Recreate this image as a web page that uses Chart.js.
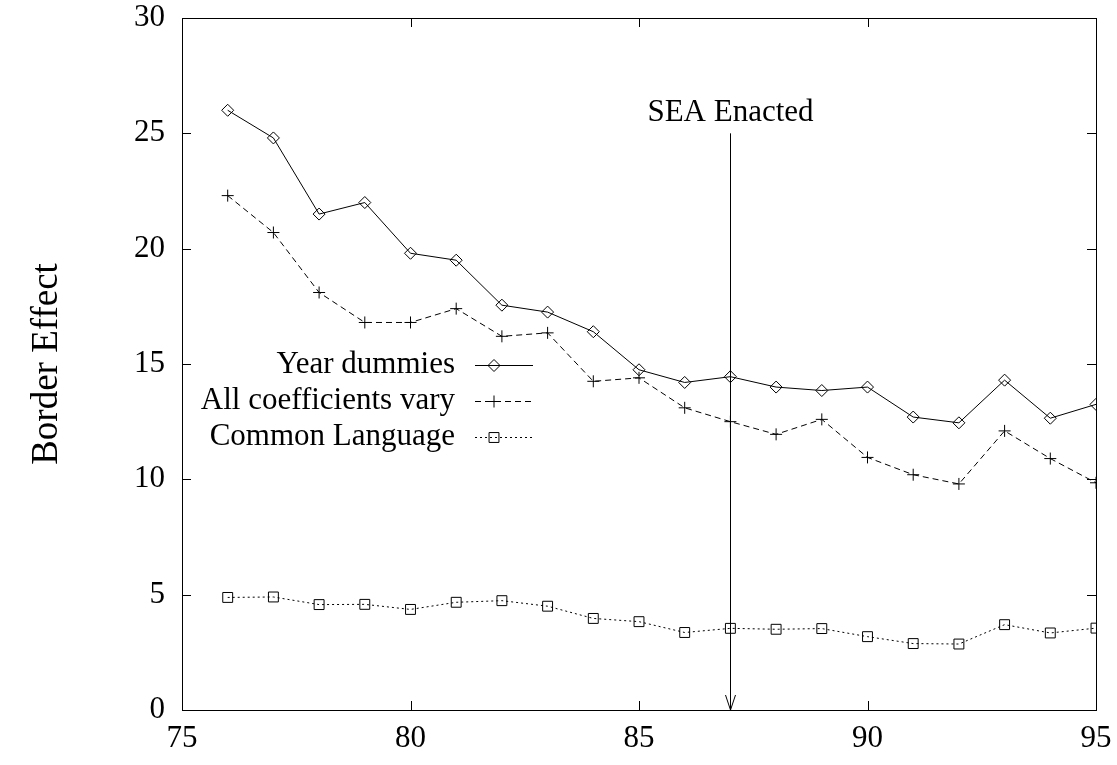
<!DOCTYPE html>
<html>
<head>
<meta charset="utf-8">
<script src="https://cdn.jsdelivr.net/npm/chart.js@4/dist/chart.umd.min.js"></script>
<style>
  body { margin: 0; background: #fff; }
  canvas { display: block; }
</style>
</head>
<body>
<canvas id="borderChart" width="1117" height="765"></canvas>
<script>
// data
const years = [76, 77, 78, 79, 80, 81, 82, 83, 84, 85, 86, 87, 88, 89, 90, 91, 92, 93, 94, 95];
const yearDummies = [26.0, 24.8, 21.5, 22.0, 19.8, 19.5, 17.55, 17.25, 16.4, 14.75, 14.2, 14.45, 14.0, 13.85, 14.0, 12.7, 12.45, 14.3, 12.65, 13.25];
const allCoefVary = [22.3, 20.7, 18.1, 16.8, 16.8, 17.4, 16.2, 16.35, 14.25, 14.4, 13.1, 12.5, 11.95, 12.6, 10.95, 10.2, 9.8, 12.1, 10.9, 9.85];
const commonLang = [4.88, 4.9, 4.57, 4.58, 4.36, 4.67, 4.74, 4.5, 3.97, 3.83, 3.36, 3.54, 3.5, 3.53, 3.18, 2.88, 2.86, 3.7, 3.34, 3.55];
const seriesNames = ['Year dummies', 'All coefficients vary', 'Common Language'];
const xTicks = [75, 80, 85, 90, 95];
const yTicks = [0, 5, 10, 15, 20, 25, 30];
const arrowYear = 87, arrowFrom = 25, arrowTo = 0;
const arrowLabel = 'SEA Enacted';

const serif = '"Liberation Serif", "Times New Roman", serif';

function pts(vals) {
    return years.map((y, i) => ({ x: y, y: vals[i] }));
}

// box, inward ticks, arrow and legend
const gnuplotBits = {
    id: 'gnuplotBits',
    afterDraw(chart) {
        const ctx = chart.ctx;
        const a = chart.chartArea;
        const xs = chart.scales.x, ys = chart.scales.y;
        ctx.save();
        ctx.strokeStyle = '#000';
        ctx.lineWidth = 1;
        ctx.setLineDash([]);
        ctx.strokeRect(Math.round(a.left) + 0.5, Math.round(a.top) + 0.5,
            Math.round(a.right - a.left), Math.round(a.bottom - a.top));

        const tl = 9;
        ctx.beginPath();
        xTicks.forEach(v => {
            const px = Math.round(xs.getPixelForValue(v)) + 0.5;
            ctx.moveTo(px, a.bottom); ctx.lineTo(px, a.bottom - tl);
            ctx.moveTo(px, a.top); ctx.lineTo(px, a.top + tl);
        });
        yTicks.forEach(v => {
            const py = Math.round(ys.getPixelForValue(v)) + 0.5;
            ctx.moveTo(a.left, py); ctx.lineTo(a.left + tl, py);
            ctx.moveTo(a.right, py); ctx.lineTo(a.right - tl, py);
        });
        ctx.stroke();

        // arrow
        const ax = Math.round(xs.getPixelForValue(arrowYear)) + 0.5;
        const y1 = ys.getPixelForValue(arrowFrom);
        const y2 = ys.getPixelForValue(arrowTo);
        ctx.beginPath();
        ctx.moveTo(ax, y1); ctx.lineTo(ax, y2);
        ctx.moveTo(ax - 5, y2 - 15); ctx.lineTo(ax, y2); ctx.lineTo(ax + 5, y2 - 15);
        ctx.stroke();
        ctx.fillStyle = '#000';
        ctx.font = '31px ' + serif;
        ctx.textAlign = 'center';
        ctx.textBaseline = 'alphabetic';
        ctx.fillText(arrowLabel, ax, y1 - 12);

        // legend
        const textRight = 455, lineL = 475, lineR = 533, markX = 494;
        const rows = [365, 401, 437];
        chart.data.datasets.forEach((ds, i) => {
            const yy = rows[i] + 0.5;
            ctx.font = '31px ' + serif;
            ctx.textAlign = 'right';
            ctx.textBaseline = 'middle';
            ctx.fillStyle = '#000';
            ctx.fillText(ds.label, textRight, rows[i]);
            ctx.setLineDash(ds.borderDash || []);
            ctx.beginPath();
            ctx.moveTo(lineL, yy); ctx.lineTo(lineR, yy);
            ctx.stroke();
            ctx.setLineDash([]);
            ctx.fillStyle = 'rgba(0,0,0,0)';
            Chart.helpers.drawPoint(ctx, {
                pointStyle: ds.pointStyle, radius: ds.pointRadius, rotation: 0, borderWidth: 1
            }, markX, yy);
        });
        ctx.restore();
    }
};

const ctx = document.getElementById('borderChart').getContext('2d');
const chart = new Chart(ctx, {
    type: 'line',
    data: {
        datasets: [
            {
                label: seriesNames[0], data: pts(yearDummies),
                borderColor: '#000', borderWidth: 1, borderDash: [],
                pointStyle: 'rectRot', pointRadius: 6,
                pointBorderColor: '#000', pointBackgroundColor: 'rgba(0,0,0,0)', pointBorderWidth: 1
            },
            {
                label: seriesNames[1], data: pts(allCoefVary),
                borderColor: '#000', borderWidth: 1, borderDash: [6, 4],
                pointStyle: 'cross', pointRadius: 6,
                pointBorderColor: '#000', pointBackgroundColor: 'rgba(0,0,0,0)', pointBorderWidth: 1
            },
            {
                label: seriesNames[2], data: pts(commonLang),
                borderColor: '#000', borderWidth: 1, borderDash: [2, 3],
                pointStyle: 'rect', pointRadius: 7,
                pointBorderColor: '#000', pointBackgroundColor: 'rgba(0,0,0,0)', pointBorderWidth: 1
            }
        ]
    },
    options: {
        responsive: false,
        animation: false,
        devicePixelRatio: 1,
        layout: { padding: 0 },
        plugins: {
            legend: { display: false },
            tooltip: { enabled: false }
        },
        elements: { line: { tension: 0 } },
        scales: {
            x: {
                type: 'linear', min: 75, max: 95,
                afterFit(s) {
                    s.height = 55;
                    s.paddingLeft = 0;
                    s.paddingRight = 21;
                },
                afterBuildTicks(s) { s.ticks = xTicks.map(v => ({ value: v })); },
                grid: { display: false, drawTicks: false },
                border: { display: false },
                ticks: { color: '#000', padding: 10, maxRotation: 0, font: { family: serif, size: 31 } }
            },
            y: {
                min: 0, max: 30,
                afterFit(s) {
                    s.width = 182;
                    s.paddingTop = 18;
                    s.paddingBottom = 0;
                },
                afterBuildTicks(s) { s.ticks = yTicks.map(v => ({ value: v })); },
                grid: { display: false, drawTicks: false },
                border: { display: false },
                ticks: { color: '#000', padding: 17, font: { family: serif, size: 31 } },
                title: {
                    display: true, text: 'Border Effect', color: '#000',
                    padding: { top: 25, bottom: 0 },
                    font: { family: serif, size: 37 }
                }
            }
        }
    },
    plugins: [gnuplotBits]
});
</script>
</body>
</html>
